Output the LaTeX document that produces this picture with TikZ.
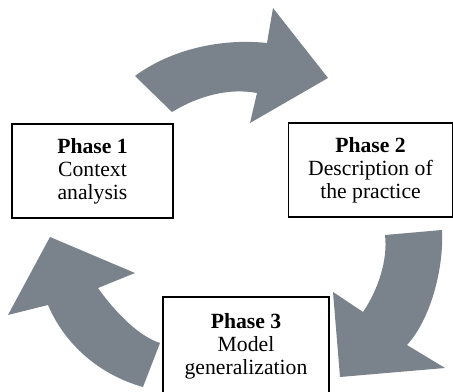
\documentclass[tikz,border=0pt]{standalone}
\usepackage{fontspec}
\setmainfont{Liberation Serif}
\usepackage{tikz}
\usetikzlibrary{positioning}
\definecolor{arrowgray}{RGB}{122,131,139}

\begin{document}
\begin{tikzpicture}[
  x=0.6pt, y=-0.6pt,
  phase/.style={rectangle, draw, line width=0.9pt, fill=white, minimum width=98pt, minimum height=57pt, align=center, inner sep=2pt, font=\fontsize{13}{13.9}\selectfont},
  bigarrow/.style={fill=arrowgray, draw=none}
]
\useasboundingbox (0,0) rectangle (453,392);

% curved arrows between the phases
\fill[bigarrow] (135,76) .. controls (170,50) and (220,38) .. (267,43) -- (273,8) -- (328,78) -- (250,123) -- (257,93) .. controls (230,88) and (200,95) .. (172,112) -- cycle;
\fill[bigarrow] (442,230) .. controls (444,270) and (430,320) .. (407,345) -- (445,368) -- (340,377) -- (333,292) -- (363,312) .. controls (378,290) and (388,260) .. (385,235) -- cycle;
\fill[bigarrow] (143,387) .. controls (100,375) and (65,345) .. (48,305) -- (8,315) -- (50,237) -- (135,273) -- (98,288) .. controls (110,305) and (135,335) .. (160,343) -- cycle;

% phases
\node[phase, minimum width=96.6pt, minimum height=56.4pt] (p1) at (92.5,171) {\textbf{Phase 1}\\Context\\analysis};
\node[phase, minimum width=98.4pt, minimum height=56.4pt] (p2) at (370.5,170) {\textbf{Phase 2}\\Description of\\the practice};
\node[phase, minimum width=99.6pt, minimum height=58.8pt] (p3) at (246,346) {\textbf{Phase 3}\\Model\\generalization};

\end{tikzpicture}
\end{document}
